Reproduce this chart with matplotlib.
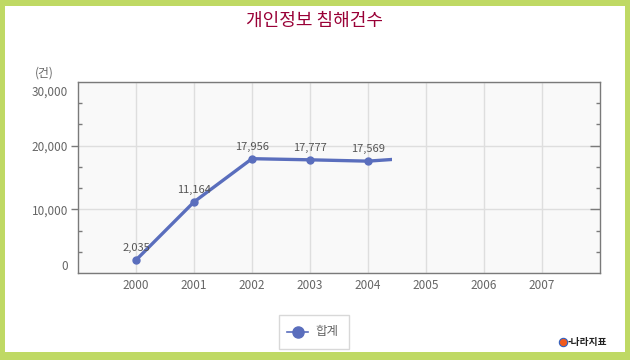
import matplotlib.pyplot as plt
import matplotlib.lines as mlines
import matplotlib.transforms as mtransforms
from matplotlib.patches import Rectangle
from matplotlib.ticker import FixedLocator

plt.rcParams['font.family'] = ['Noto Sans CJK KR', 'DejaVu Sans']

years = ['2000', '2001', '2002', '2003', '2004', '2005', '2006', '2007']
# shown values (the 2005 point is only partly drawn in the reference)
cases = [2035, 11164, 17956, 17777, 17569, 18206]
n_shown = 5
line_end = 4.42  # where the drawn line stops
y_ticks = [0, 10000, 20000, 30000]

line_col = '#5a6ebd'
text_col = '#666666'
axis_col = '#7a7a7a'

fig = plt.figure(figsize=(6.3, 3.6), dpi=100)
ax = fig.add_axes([78/630, 1 - 273/360, 522/630, 191/360])
ax.set_facecolor('#f9f9f9')

x = list(range(len(cases)))
ln, = ax.plot(x, cases, color=line_col, lw=2.4, solid_capstyle='butt', zorder=3)
clip = Rectangle((-1, -1e6), line_end + 1, 2e6, transform=ax.transData)
ln.set_clip_path(clip)
ax.plot(x[:n_shown], cases[:n_shown], 'o', color=line_col, ms=5, zorder=4)
for i in range(n_shown):
    ax.annotate(f'{cases[i]:,}', (x[i], cases[i]), xytext=(0, 5),
                textcoords='offset points', ha='center', va='bottom',
                fontsize=8, color='#555555', zorder=5)

ax.set_xlim(-1, 8)
ax.set_ylim(0, 30000)
ax.set_xticks(range(len(years)))
ax.set_xticklabels(years)
ax.set_yticks(y_ticks)
ax.set_yticklabels([f'{v:,}' for v in y_ticks])
minor = [y_ticks[0] + k * 10000 / 3 for k in range(10) if k % 3]
ax.yaxis.set_minor_locator(FixedLocator(minor))

ax.grid(True, which='major', color='#dedede', lw=1)
ax.set_axisbelow(True)
for s in ax.spines.values():
    s.set_color(axis_col)
    s.set_linewidth(1)

ax.tick_params(axis='x', length=0, pad=4, labelsize=8.5, labelcolor=text_col)
ax.tick_params(axis='y', which='major', direction='out', length=5, width=1,
               color=axis_col, left=True, right=True, pad=2,
               labelsize=8.5, labelcolor=text_col)
ax.tick_params(axis='y', which='minor', direction='in', length=3, width=1,
               color=axis_col, left=True, right=True)

# major ticks: outward on the left, inward on the right, none at the ends
major_ticks = ax.yaxis.get_major_ticks()
for k, t in enumerate(major_ticks):
    t.tick2line.set_marker(mlines.TICKLEFT)
    t.tick2line.set_markersize(7)
    if k in (0, len(major_ticks) - 1):
        t.tick1line.set_visible(False)
        t.tick2line.set_visible(False)

# keep the end labels inside the plot height
labels = ax.get_yticklabels()
labels[0].set_transform(labels[0].get_transform() +
                        mtransforms.ScaledTranslation(0, 8/100, fig.dpi_scale_trans))
labels[-1].set_transform(labels[-1].get_transform() +
                         mtransforms.ScaledTranslation(0, -9/100, fig.dpi_scale_trans))

fig.text(35/630, 1 - 73/360, '(건)', fontsize=8.5, color=text_col, va='center')
fig.text(0.5, 1 - 21/360, '개인정보 침해건수', fontsize=13, color='#990036',
         ha='center', va='center')

# legend box
fig.add_artist(Rectangle((279/630, 1 - 349/360), 70/630, 34/360,
                         transform=fig.transFigure, facecolor='white',
                         edgecolor='#d8d8d8', lw=1))
fig.add_artist(plt.Line2D([287/630, 308/630], [1 - 332/360, 1 - 332/360],
                          transform=fig.transFigure, color=line_col, lw=1.2))
fig.add_artist(plt.Line2D([297.5/630], [1 - 332/360], transform=fig.transFigure,
                          marker='o', ms=8, color=line_col))
fig.text(315/630, 1 - 332/360, '합계', fontsize=9, color=text_col, va='center')

# logo
fig.add_artist(plt.Line2D([563/630], [1 - 342/360], transform=fig.transFigure,
                          marker='o', ms=6, color='#f05a1e', mec='#3060c0', mew=0.8))
fig.text(568/630, 1 - 342/360, '-나라지표', fontsize=7, color='#222222',
         va='center', fontweight='bold')

# green frame
green = '#bfd964'
for (x0, y0, w, h) in [(0, 0, 630, 8), (0, 354, 630, 6), (0, 0, 5, 360), (625, 0, 5, 360)]:
    fig.add_artist(Rectangle((x0/630, y0/360), w/630, h/360, transform=fig.transFigure,
                             facecolor=green, edgecolor='none'))

fig.savefig('out.png', dpi=100)
